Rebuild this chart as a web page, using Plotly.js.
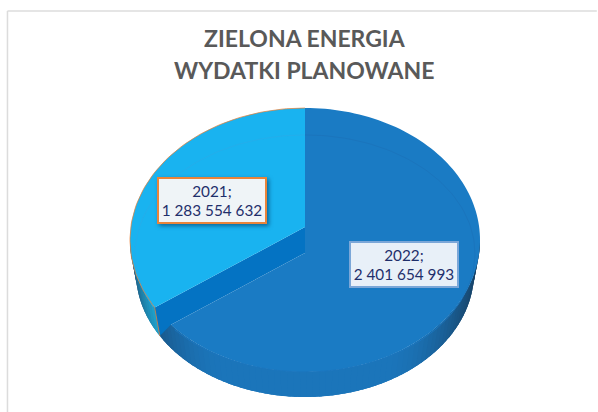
<!DOCTYPE html>
<html><head><meta charset="utf-8">
<script src="https://cdn.plot.ly/plotly-3.0.1.min.js"></script>
<style>
html,body{margin:0;padding:0;background:#fff}
#c{width:598px;height:412px}
.annotation[data-index="0"] .bg{filter:drop-shadow(2px 2px 2px rgba(0,40,80,.55))}
</style></head><body><div id="c"></div>
<script>
const categories = ['2021', '2022'];
const values = [1283554632, 2401654993];
const titleLines = ['ZIELONA ENERGIA', 'WYDATKI PLANOWANE'];
const titleY = [0.908, 0.83];
const labelBorders = ['#e9843a', '#7ba7d8'];
const labelFills = ['#eff4f7', '#e8f0f8'];
const labelX = [0.3545, 0.6756];
const labelY = [0.5133, 0.357];

// geometry of the tilted disc, in radius units
const APEX = 0.098;
const LOW_K = 0.966, LOW_KY = 0.947, LOW_DY = -0.242;
const total = values[0] + values[1];
const sweep = values[0] / total * 2 * Math.PI;
const dir = [-Math.sin(sweep), Math.cos(sweep)];

function rimHit(apexY) {
  const b = apexY * dir[1], c = apexY * apexY - 1;
  const t = -b + Math.sqrt(b * b - c);
  const p = [t * dir[0], apexY + t * dir[1]];
  return Math.atan2(-p[0], p[1]); // angle anticlockwise from 12 o'clock
}
const a1 = rimHit(APEX), a2 = rimHit(-APEX);
const pt = (a, dy = 0, k = 1, ky = 1) => [-Math.sin(a) * k, Math.cos(a) * ky + dy];
const low = a => pt(a, LOW_DY, LOW_K, LOW_KY);
const range = (from, to, n) => Array.from({length: n + 1}, (_, i) => from + (to - from) * i / n);

function poly(points, fill, line, width) {
  return {type: 'scatter', mode: line ? 'lines' : 'none', x: points.map(p => p[0]), y: points.map(p => p[1]),
    fill: fill ? 'toself' : 'none', fillcolor: fill || undefined,
    line: {color: line || 'rgba(0,0,0,0)', width: width || 0}, hoverinfo: 'skip', showlegend: false};
}
function mix(c1, c2, t) {
  return 'rgb(' + c1.map((v, i) => Math.round(v + (c2[i] - v) * t)).join(',') + ')';
}
// one wall band, painted so that the next band overlaps it and no seams show
function wall(from, to, colour) {
  const arc = range(from, to, 4);
  return poly(arc.map(a => pt(a)).concat(arc.slice().reverse().map(low)), colour);
}
const traces = [];
const deep = [24, 66, 102], mid = [27, 117, 186];
const N = 70, aEnd = 3 * Math.PI / 2;
const bands = range(a1, aEnd, N);
const step = (aEnd - a1) / N;
bands.slice(0, N).forEach(a => {
  const s = Math.abs(Math.sin(a + step / 2));
  const t = Math.min(1, Math.max(0, (s - 0.45) / 0.55));
  traces.push(wall(a, Math.min(aEnd, a + 2.5 * step), mix(mid, deep, t * t)));
});
// side wall of the smaller slice
const deepT = [30, 72, 110], midT = [30, 158, 200];
const M = 12, bandsT = range(Math.PI / 2, a1, M), stepT = (a1 - Math.PI / 2) / M;
bandsT.slice(0, M).forEach((a, i) => {
  traces.push(wall(a, Math.min(a1, a + 2.5 * stepT), mix(deepT, midT, i / (M - 1))));
});
// cut face
traces.push(poly([[0, APEX], pt(a1), low(a1), pt(a2), [0, -APEX]], '#0473c3'));
// top faces
traces.push(poly([[0, -APEX], [0, 1]].concat(range(0, a2 - 2 * Math.PI, 140).map(a => pt(a))), '#1a7bc4'));
traces.push(poly([[0, APEX]].concat(range(0, a1, 80).map(a => pt(a))), '#19b3f0'));
// faint bevel ring
const RK = 0.971, RKY = 0.898, RDY = -0.102;
traces.push(poly(range(0, a1, 60).map(a => pt(a, RDY, RK, RKY)).filter(p => p[1] > dir[1] / dir[0] * p[0] + APEX), null, '#24aeeb', 1));
traces.push(poly(range(0, a2 - 2 * Math.PI, 120).map(a => pt(a, RDY, RK, RKY)), null, '#1b75bd', 1));
// orange rim of the smaller slice
traces.push(poly(range(0, a1, 80).map(a => pt(a)).concat([low(a1)]), null, 'rgba(237,125,49,0.7)', 1));

function fmt(v) { return String(v).replace(/\B(?=(\d{3})+$)/g, ' '); }
const FONT = 'Lato, "Open Sans", sans-serif';
const annotations = categories.map((c, i) => ({
  xref: 'paper', yref: 'paper', x: labelX[i], y: labelY[i], xanchor: 'center', yanchor: 'middle',
  text: c + ';<br>' + fmt(values[i]), showarrow: false, align: 'center', width: 104, height: 41, borderpad: 1,
  bgcolor: labelFills[i], bordercolor: labelBorders[i], borderwidth: 2,
  font: {family: FONT, size: 15.3, color: '#1f2f6b'}
})).concat(titleLines.map((t, i) => ({
  xref: 'paper', yref: 'paper', x: 0.51, y: titleY[i], xanchor: 'center', yanchor: 'middle',
  text: '<b>' + t + '</b>', showarrow: false, font: {family: FONT, size: 23, color: '#595959'}
})));

const layout = {
  width: 598, height: 412, margin: {l: 0, r: 0, t: 0, b: 0}, paper_bgcolor: '#fff', plot_bgcolor: '#fff', showlegend: false,
  xaxis: {visible: false, range: [-305 / 175, 293 / 175], fixedrange: true},
  yaxis: {visible: false, range: [-172 / 132, 240 / 132], fixedrange: true},
  annotations,
  shapes: [
    {type: 'line', xref: 'paper', yref: 'paper', x0: 0.0125, x1: 0.0125, y0: 0, y1: 0.973, line: {color: '#dcdcdc', width: 1.5}},
    {type: 'line', xref: 'paper', yref: 'paper', x0: 0.0125, x1: 0.998, y0: 0.973, y1: 0.973, line: {color: '#dcdcdc', width: 1.5}}
  ]
};
Plotly.newPlot('c', traces, layout, {staticPlot: true, displayModeBar: false});
</script></body></html>
